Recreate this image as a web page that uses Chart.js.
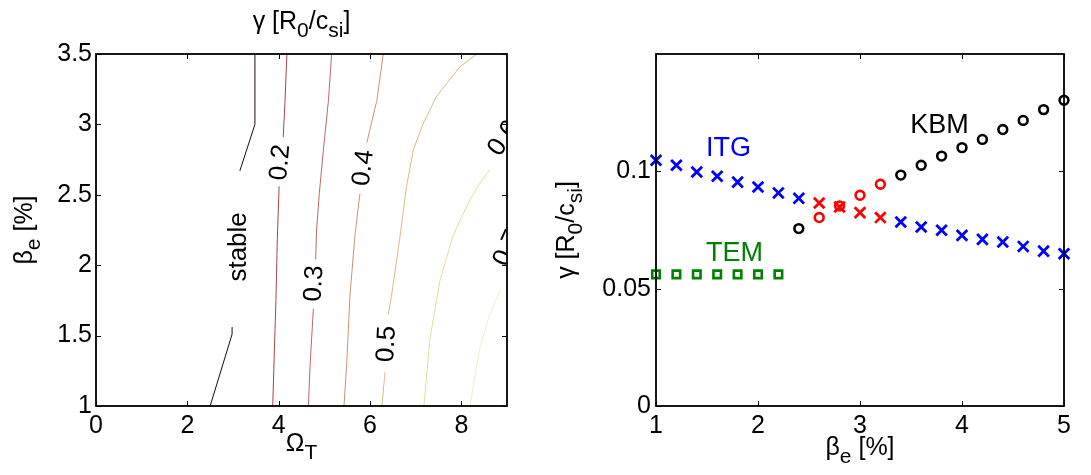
<!DOCTYPE html>
<html>
<head>
<meta charset="utf-8">
<script src="https://cdn.jsdelivr.net/npm/chart.js@4.4.1/dist/chart.umd.min.js"></script>
<style>
  html, body { margin: 0; padding: 0; background: #fff; width: 1091px; height: 475px; overflow: hidden; }
  #wrap { position: relative; width: 1091px; height: 475px; }
  canvas { position: absolute; top: 0; }
  #contour { left: 0; }
  #growth { left: 545px; }
</style>
</head>
<body>
<div id="wrap">
  <canvas id="contour" width="545" height="475"></canvas>
  <canvas id="growth" width="546" height="475"></canvas>
</div>
<script>
// ---------- left panel: growth-rate contours over (Omega_T, beta_e) ----------
const omegaTicks = [0, 2, 4, 6, 8];
const betaTicks = [1, 1.5, 2, 2.5, 3, 3.5];
const contourLevels = [0.2, 0.3, 0.4, 0.5, 0.6, 0.7];

// NaN splits a contour where its label sits
const stableOmega = [2.50, 2.98, 2.98, NaN, 3.15, 3.48, 3.48];
const stableBeta  = [1.00, 1.51, 1.56, NaN, 2.67, 3.00, 3.50];

const level02Omega = [3.87, 3.90, 3.94, 3.97, 4.01, NaN, 4.10, 4.14, 4.18];
const level02Beta  = [1.00, 1.33, 1.75, 2.18, 2.56, NaN, 2.91, 3.17, 3.50];

const level03Omega = [4.65, 4.69, 4.76, NaN, 4.81, 4.83, 4.89, 4.98, 5.09, 5.16];
const level03Beta  = [1.00, 1.30, 1.69, NaN, 2.04, 2.25, 2.51, 2.82, 3.17, 3.50];

const level04Omega = [5.43, 5.49, 5.56, 5.67, 5.78, NaN, 5.93, 6.15, 6.29];
const level04Beta  = [1.00, 1.30, 1.78, 2.21, 2.51, NaN, 2.87, 3.17, 3.50];

const level05Omega = [6.26, 6.33, NaN, 6.40, 6.47, 6.66, 6.80, 6.95, 7.17, 7.46, 7.97, 8.34];
const level05Beta  = [1.00, 1.24, NaN, 1.65, 1.78, 2.21, 2.56, 2.82, 3.01, 3.20, 3.41, 3.50];

const level06Omega = [7.18, 7.31, 7.53, 7.82, 8.12, 8.36, 8.63];
const level06Beta  = [1.00, 1.47, 1.89, 2.21, 2.42, 2.56, 2.68];

const level07Omega = [8.19, 8.29, 8.41, 8.63, 8.85];
const level07Beta  = [1.00, 1.20, 1.42, 1.66, 1.82];

// ---------- right panel: growth rate versus beta_e ----------
const betaAxisTicks = [1, 2, 3, 4, 5];
const gammaAxisTicks = [0, 0.05, 0.1];

const itgBeta  = [1.0, 1.2, 1.4, 1.6, 1.8, 2.0, 2.2, 2.4, 3.4, 3.6, 3.8, 4.0, 4.2, 4.4, 4.6, 4.8, 5.0];
const itgGamma = [0.1047, 0.1026, 0.0997, 0.0979, 0.0954, 0.0933, 0.0908, 0.0885,
                  0.0784, 0.0763, 0.0749, 0.0727, 0.0710, 0.0699, 0.0680, 0.0660, 0.0649];

const mixedBeta       = [2.6, 2.8, 3.0, 3.2];
const mixedCrossGamma = [0.0865, 0.0848, 0.0824, 0.0803];
const mixedRingGamma  = [0.0803, 0.0852, 0.0898, 0.0945];

const kbmBeta  = [2.4, 3.4, 3.6, 3.8, 4.0, 4.2, 4.4, 4.6, 4.8, 5.0];
const kbmGamma = [0.0756, 0.0984, 0.1026, 0.1065, 0.1101, 0.1136, 0.1178, 0.1217, 0.1263, 0.1303];

const temBeta  = [1.0, 1.2, 1.4, 1.6, 1.8, 2.0, 2.2];
const temGamma = [0.0561, 0.0561, 0.0561, 0.0561, 0.0561, 0.0561, 0.0561];

// ---------- shared drawing helpers ----------
const FAMILY = '"Liberation Sans", Arial, Helvetica, sans-serif';
Chart.defaults.font.family = FAMILY;
Chart.defaults.color = '#000';

const TICK_SIZE = 25;
const TITLE_SIZE = 25;

const toPoints = (xs, ys) => xs.map((v, i) => ({ x: v, y: ys[i] }));

// text made of plain and subscript runs, centred on (cx, baseline cy)
function drawRich(ctx, parts, cx, cy, angle, size) {
  ctx.save();
  ctx.translate(cx, cy);
  ctx.rotate(angle * Math.PI / 180);
  ctx.fillStyle = '#000';
  ctx.textAlign = 'left';
  ctx.textBaseline = 'alphabetic';
  const fontFor = p => (p.sub ? Math.round(size * 0.82) : size) + 'px ' + FAMILY;
  let total = 0;
  parts.forEach(p => { ctx.font = fontFor(p); total += ctx.measureText(p.t).width; });
  let pos = -total / 2;
  parts.forEach(p => {
    ctx.font = fontFor(p);
    ctx.fillText(p.t, pos, p.sub ? size * 0.3 : 0);
    pos += ctx.measureText(p.t).width;
  });
  ctx.restore();
}

// box around the plot area with inward tick marks on all four sides
const framePlugin = {
  id: 'frame',
  afterDatasetsDraw(chart) {
    const { ctx, chartArea: a, scales: { x, y } } = chart;
    const len = 5;
    ctx.save();
    ctx.strokeStyle = '#000';
    ctx.lineWidth = 1;
    ctx.beginPath();
    x.ticks.forEach(t => {
      const px = Math.round(x.getPixelForValue(t.value)) + 0.5;
      ctx.moveTo(px, a.bottom); ctx.lineTo(px, a.bottom - len);
      ctx.moveTo(px, a.top); ctx.lineTo(px, a.top + len);
    });
    y.ticks.forEach(t => {
      const py = Math.round(y.getPixelForValue(t.value)) + 0.5;
      ctx.moveTo(a.left, py); ctx.lineTo(a.left + len, py);
      ctx.moveTo(a.right, py); ctx.lineTo(a.right - len, py);
    });
    ctx.stroke();
    ctx.lineWidth = 1.8;
    ctx.strokeRect(a.left, a.top, a.right - a.left, a.bottom - a.top);
    ctx.restore();
  }
};

// ---------- left panel ----------
const contourSets = [
  { omega: stableOmega,  beta: stableBeta,  color: '#220606' },
  { omega: level02Omega, beta: level02Beta, color: '#a34646' },
  { omega: level03Omega, beta: level03Beta, color: '#bb6868' },
  { omega: level04Omega, beta: level04Beta, color: '#cc9272' },
  { omega: level05Omega, beta: level05Beta, color: '#dcb984' },
  { omega: level06Omega, beta: level06Beta, color: '#e5dd98' },
  { omega: level07Omega, beta: level07Beta, color: '#efeec2' }
];

// where each level's label sits along its contour (data coordinates, degrees)
const contourLabelPlaces = [
  { omega: 4.04, beta: 2.73, angle: -85 },
  { omega: 4.78, beta: 1.87, angle: -87 },
  { omega: 5.86, beta: 2.69, angle: -83 },
  { omega: 6.37, beta: 1.44, angle: -87 },
  { omega: 8.93, beta: 2.90, angle: -56 },
  { omega: 9.02, beta: 2.12, angle: -66 }
];
const stableText = { text: 'stable', omega: 3.12, beta: 2.13, angle: -90 };

const contourTextPlugin = {
  id: 'contourText',
  afterDatasetsDraw(chart) {
    const { ctx, chartArea: a, scales: { x, y } } = chart;
    ctx.save();
    ctx.beginPath();
    ctx.rect(a.left, a.top, a.right - a.left, a.bottom - a.top);
    ctx.clip();
    ctx.fillStyle = '#000';
    ctx.textAlign = 'center';
    ctx.textBaseline = 'middle';
    const put = (text, px, py, angle, size) => {
      ctx.save();
      ctx.translate(px, py);
      ctx.rotate(angle * Math.PI / 180);
      ctx.font = size + 'px ' + FAMILY;
      ctx.fillText(text, 0, 0);
      ctx.restore();
    };
    contourLevels.forEach((lvl, i) => {
      const p = contourLabelPlaces[i];
      put(lvl.toFixed(1), x.getPixelForValue(p.omega), y.getPixelForValue(p.beta), p.angle, 26);
    });
    put(stableText.text, x.getPixelForValue(stableText.omega), y.getPixelForValue(stableText.beta), stableText.angle, 26);
    ctx.restore();
  }
};

const leftTitles = {
  id: 'leftTitles',
  afterDraw(chart) {
    const { ctx, chartArea: a } = chart;
    const cx = (a.left + a.right) / 2, cy = (a.top + a.bottom) / 2;
    drawRich(ctx, [{ t: 'γ [R' }, { t: '0', sub: true }, { t: '/c' }, { t: 'si', sub: true }, { t: ']' }],
      cx, a.top - 25, 0, TITLE_SIZE);
    drawRich(ctx, [{ t: 'Ω' }, { t: 'T', sub: true }], cx, a.bottom + 45, 0, TITLE_SIZE);
    drawRich(ctx, [{ t: 'β' }, { t: 'e', sub: true }, { t: ' [%]' }], a.left - 64, cy, -90, TITLE_SIZE);
  }
};

new Chart(document.getElementById('contour'), {
  type: 'scatter',
  data: {
    datasets: contourSets.map(c => ({
      data: toPoints(c.omega, c.beta),
      showLine: true,
      spanGaps: false,
      borderColor: c.color,
      borderWidth: 1,
      pointRadius: 0,
      pointHoverRadius: 0,
      tension: 0
    }))
  },
  options: {
    responsive: false,
    animation: false,
    devicePixelRatio: 1,
    events: [],
    layout: { padding: { left: 0, right: 38, top: 54, bottom: 0 } },
    plugins: { legend: { display: false }, tooltip: { enabled: false } },
    scales: {
      x: {
        type: 'linear', min: 0, max: 9,
        afterBuildTicks: s => { s.ticks = omegaTicks.map(v => ({ value: v })); },
        afterFit: s => { s.height = 69; },
        grid: { display: false, drawTicks: false },
        border: { display: false },
        ticks: { font: { size: TICK_SIZE }, padding: 5, maxRotation: 0, autoSkip: false, callback: v => String(v) }
      },
      y: {
        type: 'linear', min: 1, max: 3.5,
        afterBuildTicks: s => { s.ticks = betaTicks.map(v => ({ value: v })); },
        afterFit: s => { s.width = 96; },
        grid: { display: false, drawTicks: false },
        border: { display: false },
        ticks: { font: { size: TICK_SIZE }, padding: 4, autoSkip: false, callback: v => String(v) }
      }
    }
  },
  plugins: [framePlugin, contourTextPlugin, leftTitles]
});

// ---------- right panel ----------
const modeTags = [
  { text: 'ITG', beta: 1.71, gamma: 0.1098, color: '#0000ff' },
  { text: 'KBM', beta: 3.78, gamma: 0.1196, color: '#000000' },
  { text: 'TEM', beta: 1.77, gamma: 0.0651, color: '#008000' }
];

const rightTitles = {
  id: 'rightTitles',
  afterDraw(chart) {
    const { ctx, chartArea: a, scales: { x, y } } = chart;
    const cx = (a.left + a.right) / 2, cy = (a.top + a.bottom) / 2;
    drawRich(ctx, [{ t: 'β' }, { t: 'e', sub: true }, { t: ' [%]' }], cx, a.bottom + 49, 0, TITLE_SIZE);
    drawRich(ctx, [{ t: 'γ [R' }, { t: '0', sub: true }, { t: '/c' }, { t: 'si', sub: true }, { t: ']' }],
      a.left - 82, cy, -90, TITLE_SIZE);
    ctx.save();
    ctx.textAlign = 'center';
    ctx.textBaseline = 'middle';
    ctx.font = '27px ' + FAMILY;
    modeTags.forEach(m => {
      ctx.fillStyle = m.color;
      ctx.fillText(m.text, x.getPixelForValue(m.beta), y.getPixelForValue(m.gamma));
    });
    ctx.restore();
  }
};

const markerSet = (xs, ys, style, color, radius, width) => ({
  data: toPoints(xs, ys),
  showLine: false,
  pointStyle: style,
  pointRadius: radius,
  pointHoverRadius: radius,
  pointBorderColor: color,
  pointBackgroundColor: 'rgba(0,0,0,0)',
  pointBorderWidth: width,
  clip: false
});

new Chart(document.getElementById('growth'), {
  type: 'scatter',
  data: {
    datasets: [
      markerSet(temBeta, temGamma, 'rect', '#008000', 5.3, 2.6),
      markerSet(itgBeta, itgGamma, 'crossRot', '#0000ff', 7.5, 2.8),
      markerSet(mixedBeta, mixedCrossGamma, 'crossRot', '#ff0000', 7.5, 2.8),
      markerSet(kbmBeta, kbmGamma, 'circle', '#000000', 4.4, 2.6),
      markerSet(mixedBeta, mixedRingGamma, 'circle', '#ff0000', 4.4, 2.6)
    ]
  },
  options: {
    responsive: false,
    animation: false,
    devicePixelRatio: 1,
    events: [],
    layout: { padding: { left: 0, right: 27, top: 54, bottom: 0 } },
    plugins: { legend: { display: false }, tooltip: { enabled: false } },
    scales: {
      x: {
        type: 'linear', min: 1, max: 5,
        afterBuildTicks: s => { s.ticks = betaAxisTicks.map(v => ({ value: v })); },
        afterFit: s => { s.height = 69; },
        grid: { display: false, drawTicks: false },
        border: { display: false },
        ticks: { font: { size: TICK_SIZE }, padding: 5, maxRotation: 0, autoSkip: false, callback: v => String(v) }
      },
      y: {
        type: 'linear', min: 0, max: 0.15,
        afterBuildTicks: s => { s.ticks = gammaAxisTicks.map(v => ({ value: v })); },
        afterFit: s => { s.width = 111; },
        grid: { display: false, drawTicks: false },
        border: { display: false },
        ticks: { font: { size: TICK_SIZE }, padding: 5, autoSkip: false, callback: v => String(v) }
      }
    }
  },
  plugins: [framePlugin, rightTitles]
});
</script>
</body>
</html>
